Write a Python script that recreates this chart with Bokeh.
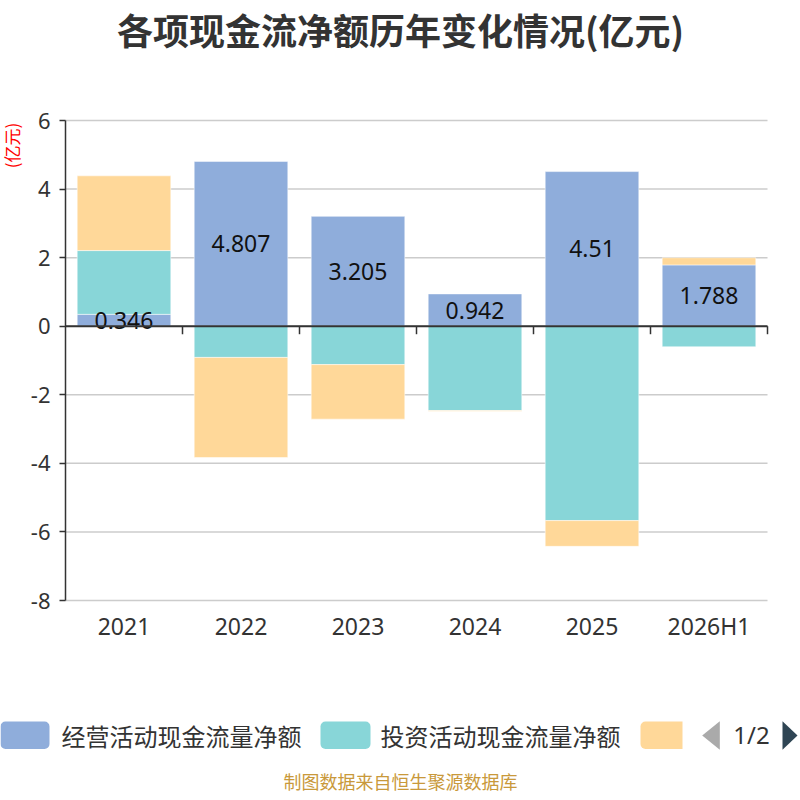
import math
import numpy as np
from bokeh.plotting import figure
from bokeh.models import Range1d, FixedTicker, LinearAxis, ColumnDataSource
from bokeh.embed import file_html
from bokeh.resources import INLINE
from bokeh.core.properties import value

# ---------------- data ----------------
categories = ["2021", "2022", "2023", "2024", "2025", "2026H1"]
series_names = ["经营活动现金流量净额", "投资活动现金流量净额", "筹资活动现金流量净额"]
operating = [0.346, 4.807, 3.205, 0.942, 4.51, 1.788]
investing = [1.86, -0.91, -1.12, -2.46, -5.67, -0.60]
financing = [2.18, -2.92, -1.59, -0.02, -0.75, 0.21]
y_ticks = [-8, -6, -4, -2, 0, 2, 4, 6]
title_text = "各项现金流净额历年变化情况(亿元)"
unit_text = "(亿元)"
source_text = "制图数据来自恒生聚源数据库"
page_text = "1/2"

colors = ["#8FADDB", "#88D6D8", "#FFD899"]
CJK = "Noto Sans CJK SC"
NUM = "Noto Sans"

# ---------------- layout (pixels) ----------------
W, H = 800, 800
PL, PR, PT, PB = 65, 767, 120, 600          # plot area
n = len(categories)
ymin, ymax = min(y_ticks), max(y_ticks)
ppu = (PB - PT) / (ymax - ymin)             # pixels per y unit
cw = (PR - PL) / n                          # pixels per category
y_top = ymax + PT / ppu
y_bot = ymin - (H - PB) / ppu
x_lo = -PL / cw
x_hi = (W - PL) / cw

p = figure(width=W, height=H, x_range=Range1d(x_lo, x_hi), y_range=Range1d(y_bot, y_top),
           x_axis_type=None, y_axis_type=None, min_border=0,
           output_backend="svg", toolbar_location=None)
p.outline_line_color = None
p.background_fill_color = "white"
p.border_fill_color = "white"
p.extra_x_ranges = {"px": Range1d(0, W)}
p.extra_y_ranges = {"px": Range1d(H, 0)}

# y grid lines limited to the plot area
p.segment(x0=[0] * len(y_ticks), x1=[n] * len(y_ticks), y0=y_ticks, y1=y_ticks,
          line_color="#cccccc", line_width=1.5)

# y axis
yax = LinearAxis(fixed_location=0, bounds=(ymin, ymax), ticker=FixedTicker(ticks=y_ticks),
                 major_label_overrides={t: str(t) for t in y_ticks})
yax.axis_line_color = "#333333"
yax.axis_line_width = 1.5
yax.major_tick_line_color = "#333333"
yax.major_tick_line_width = 1.5
yax.major_tick_out = 6
yax.major_tick_in = 0
yax.minor_tick_line_color = None
yax.major_label_text_font = NUM
yax.major_label_text_font_size = "22px"
yax.major_label_text_color = "#333333"
yax.major_label_standoff = 9
p.add_layout(yax, "left")

# category axis (labels only) at the bottom of the plot area
centers = [i + 0.5 for i in range(n)]
xax = LinearAxis(fixed_location=ymin, ticker=FixedTicker(ticks=centers),
                 major_label_overrides=dict(zip(centers, categories)))
xax.axis_line_color = None
xax.major_tick_line_color = None
xax.major_tick_out = 0
xax.major_tick_in = 0
xax.minor_tick_line_color = None
xax.major_label_text_font = NUM
xax.major_label_text_font_size = "23px"
xax.major_label_text_color = "#333333"
xax.major_label_standoff = 9
p.add_layout(xax, "below")

# stacked bars (positives and negatives stacked separately)
pos = np.zeros(n)
neg = np.zeros(n)
for name, vals, col in zip(series_names, [operating, investing, financing], colors):
    v = np.array(vals, dtype=float)
    bottom = np.where(v >= 0, pos, neg)
    top = bottom + v
    pos = np.where(v >= 0, top, pos)
    neg = np.where(v < 0, top, neg)
    src = ColumnDataSource(dict(x=centers, bottom=bottom, top=top))
    p.vbar(x="x", bottom="bottom", top="top", width=0.8, source=src,
           fill_color=col, line_color="white", line_alpha=0.5, line_width=1)

# value labels of the operating series
lab_src = ColumnDataSource(dict(x=centers, y=[v / 2 for v in operating],
                                t=[str(v) for v in operating]))
p.text(x="x", y="y", text="t", source=lab_src, text_align="center",
       text_baseline="middle", text_font=value(NUM), text_font_size="23px",
       text_color="#111111")

# zero axis line with ticks on category boundaries
bounds = list(range(1, n + 1))
p.segment(x0=[0], y0=[0], x1=[n], y1=[0], line_color="#333333", line_width=2)
p.segment(x0=bounds, y0=[0] * n, x1=bounds, y1=[-8 / ppu] * n,
          line_color="#333333", line_width=1.5)

# ---------------- texts and legend (pixel coordinates) ----------------
PX = dict(x_range_name="px", y_range_name="px")
p.text(x=[400], y=[28], text=[title_text], text_align="center", text_baseline="middle",
       text_font=value(CJK), text_font_style="bold", text_font_size="36px",
       text_color="#333333", **PX)
p.text(x=[11], y=[145], text=[unit_text], angle=math.pi / 2, text_align="center",
       text_baseline="middle", text_font=value(CJK), text_font_size="17px",
       text_color="red", **PX)

p.quad(left=[0, 320], right=[49, 370], top=[721, 721], bottom=[748.5, 748.5],
       fill_color=colors[:2], line_color=None, border_radius=5, **PX)
p.quad(left=[640], right=[682], top=[721], bottom=[748.5],
       fill_color=colors[2], line_color=None, border_radius=(5, 0, 0, 5), **PX)
p.text(x=[61, 380], y=[735, 735], text=series_names[:2], text_baseline="middle",
       text_font=value(CJK), text_font_size="24px", text_color="#333333", **PX)
p.patches(xs=[[719.3, 719.3, 701.7], [782, 782, 797]],
          ys=[[720.7, 749.3, 735], [720.7, 749.3, 735]],
          fill_color=["#aaaaaa", "#2f4554"], line_color=None, **PX)
p.text(x=[751], y=[734], text=[page_text], text_align="center", text_baseline="middle",
       text_font=value(NUM), text_font_size="24px", text_color="#333333", **PX)
p.text(x=[400], y=[780], text=[source_text], text_align="center", text_baseline="middle",
       text_font=value(CJK), text_font_size="18px", text_color="#c9993b", **PX)

open("out.html", "w").write(file_html(p, INLINE))
